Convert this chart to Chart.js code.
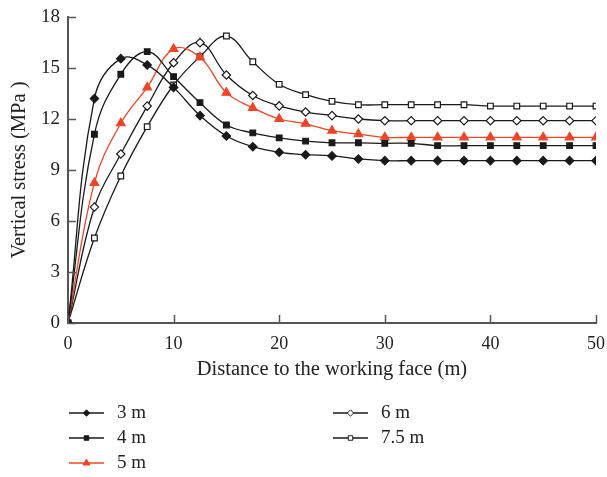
<!DOCTYPE html>
<html><head><meta charset="utf-8">
<script src="https://cdn.jsdelivr.net/npm/chart.js@4/dist/chart.umd.min.js"></script>
<style>html,body{margin:0;padding:0;background:#fff}#wrap{width:607px;height:477px;position:relative}</style>
</head><body><div id="wrap"><canvas id="c" width="607" height="477"></canvas></div>
<script>
const distances = [0,2.5,5,7.5,10,12.5,15,17.5,20,22.5,25,27.5,30,32.5,35,37.5,40,42.5,45,47.5,50];
const s3m  = [0,13.2,15.55,15.18,13.86,12.2,11.0,10.37,10.04,9.9,9.83,9.65,9.55,9.55,9.55,9.55,9.55,9.55,9.55,9.55,9.55];
const s4m  = [0,11.1,14.63,15.96,14.49,12.96,11.65,11.18,10.89,10.7,10.6,10.6,10.57,10.57,10.43,10.43,10.43,10.43,10.43,10.43,10.43];
const s5m  = [0,8.24,11.75,13.86,16.12,15.63,13.55,12.66,12.0,11.72,11.31,11.11,10.92,10.92,10.92,10.92,10.92,10.92,10.92,10.92,10.92];
const s6m  = [0,6.82,9.94,12.76,15.31,16.49,14.59,13.38,12.77,12.41,12.2,12.0,11.9,11.9,11.9,11.9,11.9,11.9,11.9,11.9,11.9];
const s75m = [0,5.0,8.65,11.55,14.0,15.67,16.88,15.37,14.04,13.43,13.04,12.84,12.84,12.84,12.84,12.84,12.76,12.76,12.76,12.76,12.76];
const seriesNames = ['3 m','4 m','5 m','6 m','7.5 m'];
const xTitle = 'Distance to the working face (m)';
const yTitle = 'Vertical stress (MPa )';

const FONT = '"Liberation Serif", "DejaVu Serif", serif';
const RED = '#ef4526';
const BLK = '#1a1a1a';
const AXIS = '#555';
const TXT = '#222';

function mk(name, vals, color, style, fill, r){
  return {label:name, data: distances.map((x,i)=>({x, y: vals[i]})),
    borderColor: color, backgroundColor: fill, pointBorderColor: color,
    pointBackgroundColor: fill, pointStyle: style, pointRadius: r, pointHoverRadius: r,
    pointBorderWidth: 1.2, borderWidth: 1.3, tension: 0.4, fill: false};
}
const datasets = [
  mk(seriesNames[0], s3m, BLK, 'rectRot', BLK, 4.2),
  mk(seriesNames[1], s4m, BLK, 'rect', BLK, 4),
  mk(seriesNames[2], s5m, RED, 'triangle', RED, 5),
  mk(seriesNames[3], s6m, BLK, 'rectRot', '#fff', 4.2),
  mk(seriesNames[4], s75m, BLK, 'rect', '#fff', 4),
];

const tickPlugin = {
  id: 'inTicks',
  afterDatasetsDraw(chart){
    const ctx = chart.ctx, xs = chart.scales.x, ys = chart.scales.y, a = chart.chartArea;
    ctx.save(); ctx.strokeStyle = AXIS; ctx.lineWidth = 1.5;
    ys.ticks.forEach(t=>{ const p = Math.round(ys.getPixelForValue(t.value))+0.5;
      ctx.beginPath(); ctx.moveTo(a.left, p); ctx.lineTo(a.left+8, p); ctx.stroke(); });
    xs.ticks.forEach(t=>{ const p = Math.round(xs.getPixelForValue(t.value))+0.5;
      ctx.beginPath(); ctx.moveTo(p, a.bottom); ctx.lineTo(p, a.bottom-8); ctx.stroke(); });
    ctx.restore();
  }
};

const legendPlugin = {
  id: 'customLegend',
  afterDraw(chart){
    const ctx = chart.ctx;
    const pos = [[69,413],[69,438],[69,463],[333,413],[333,438]];
    chart.data.datasets.forEach((ds,i)=>{
      const [x,y] = pos[i];
      ctx.save();
      ctx.strokeStyle = ds.borderColor; ctx.lineWidth = 1.3;
      ctx.beginPath(); ctx.moveTo(x,y); ctx.lineTo(x+35,y); ctx.stroke();
      ctx.fillStyle = ds.pointBackgroundColor; ctx.strokeStyle = ds.pointBorderColor; ctx.lineWidth = 1;
      Chart.helpers.drawPoint(ctx, {pointStyle: ds.pointStyle, radius: ds.pointStyle==='triangle'?4:3.2, rotation:0, borderWidth:1}, x+17.5, y);
      ctx.fillStyle = TXT; ctx.font = '19px ' + FONT; ctx.textBaseline = 'middle'; ctx.textAlign='left';
      ctx.fillText(ds.label, x+48, y);
      ctx.restore();
    });
  }
};

new Chart(document.getElementById('c'), {
  type: 'line',
  data: { datasets },
  options: {
    responsive: false, animation: false, devicePixelRatio: 1,
    layout: { padding: { left: 0, right: 11, top: 17, bottom: 95 } },
    plugins: { legend: { display: false }, tooltip: { enabled: false } },
    scales: {
      x: { type: 'linear', min: 0, max: 50,
        ticks: { stepSize: 10, color: TXT, font: { family: FONT, size: 18 }, padding: 10 },
        grid: { display: false, drawTicks: false },
        border: { display: true, color: AXIS, width: 2 },
        title: { display: true, text: xTitle, color: TXT, font: { family: FONT, size: 20.5 }, padding: { top: 4, bottom: 0 } },
        afterFit(s){ s.height = 59; s.paddingRight = 0; s.paddingLeft = 0; }
      },
      y: { min: 0, max: 18,
        ticks: { stepSize: 3, color: TXT, font: { family: FONT, size: 19 }, padding: 8 },
        grid: { display: false, drawTicks: false },
        border: { display: true, color: AXIS, width: 2 },
        title: { display: true, text: yTitle, color: TXT, font: { family: FONT, size: 20.5 }, padding: { top: 7, bottom: 0 } },
        afterFit(s){ s.width = 68; s.paddingTop = 0; s.paddingBottom = 0; }
      }
    }
  },
  plugins: [tickPlugin, legendPlugin]
});
</script></body></html>
